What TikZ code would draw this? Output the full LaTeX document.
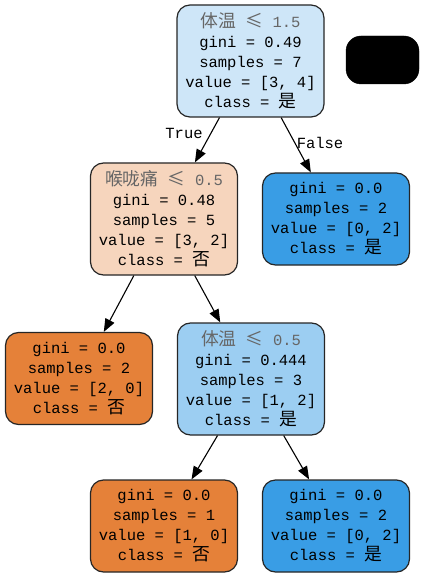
\documentclass[tikz,border=0pt]{standalone}
\usepackage{fontspec}
\usepackage{tikz}
\usepackage{xcolor}
\usetikzlibrary{arrows.meta}
\setmainfont{Liberation Mono}
\newfontfamily\cjk[Scale=1.15]{Noto Sans CJK SC}
\newcommand{\zh}[1]{{\cjk #1}}
\definecolor{splitgray}{gray}{0.4}
\definecolor{orangeA}{HTML}{E58139}
\definecolor{orangeC}{HTML}{F6D5BD}
\definecolor{blueA}{HTML}{399DE5}
\definecolor{blueB}{HTML}{9CCEF2}
\definecolor{blueD}{HTML}{CEE6F8}

\begin{document}
\begin{tikzpicture}[x=1pt,y=-1pt,
    treenode/.style={rectangle, rounded corners=13pt, draw=black!85, line width=1.2pt, minimum width=147pt, align=center, inner sep=0pt, font=\fontsize{15.5}{20}\selectfont},
    splitnode/.style={treenode, minimum height=112pt},
    leafnode/.style={treenode, minimum height=92pt},
    branch/.style={-{Triangle[length=13pt,width=10pt]}, line width=1.1pt},
    edgelabel/.style={font=\fontsize{15.5}{18}\selectfont, inner sep=0pt}]
    \useasboundingbox (0,0) rectangle (424,577);

    \node[splitnode, fill=blueD] (root) at (250.5,61) {\textcolor{splitgray}{\zh{体温} \zh{≤} 1.5}\\gini = 0.49\\samples = 7\\value = [3, 4]\\class = \zh{是}};
    \node[rectangle, rounded corners=15pt, fill=black, draw=black, minimum width=73pt, minimum height=48pt] (legend) at (382.5,60) {};

    \node[splitnode, fill=orangeC] (throat) at (164,219) {\textcolor{splitgray}{\zh{喉咙痛} \zh{≤} 0.5}\\gini = 0.48\\samples = 5\\value = [3, 2]\\class = \zh{否}};
    \node[leafnode, fill=blueA] (leafR) at (336,219) {gini = 0.0\\samples = 2\\value = [0, 2]\\class = \zh{是}};

    \node[leafnode, fill=orangeA] (leafL) at (79,378.5) {gini = 0.0\\samples = 2\\value = [2, 0]\\class = \zh{否}};
    \node[splitnode, fill=blueB] (temp) at (251,379) {\textcolor{splitgray}{\zh{体温} \zh{≤} 0.5}\\gini = 0.444\\samples = 3\\value = [1, 2]\\class = \zh{是}};

    \node[leafnode, fill=orangeA] (leafLL) at (164,526) {gini = 0.0\\samples = 1\\value = [1, 0]\\class = \zh{否}};
    \node[leafnode, fill=blueA] (leafLR) at (336,526) {gini = 0.0\\samples = 2\\value = [0, 2]\\class = \zh{是}};

    \node[edgelabel] (truelbl) at (184,133) {True};
    \node[edgelabel] (falselbl) at (320,143) {False};

    \draw[branch] (root) -- (throat);
    \draw[branch] (root) -- (leafR);
    \draw[branch] (throat) -- (leafL);
    \draw[branch] (throat) -- (temp);
    \draw[branch] (temp) -- (leafLL);
    \draw[branch] (temp) -- (leafLR);
\end{tikzpicture}
\end{document}
